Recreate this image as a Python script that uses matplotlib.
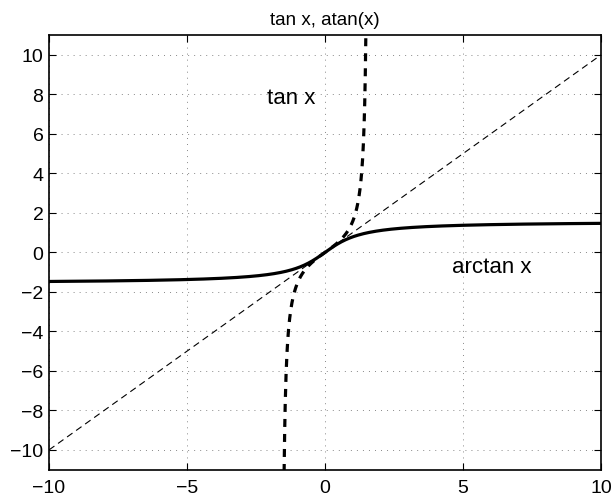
import numpy as np
import matplotlib
matplotlib.use('Agg')
from matplotlib import pyplot as plt

plt.rcParams['font.family'] = ['Liberation Sans', 'DejaVu Sans']

# data
x_tan = np.linspace(-1.5, 1.5, 301)
y_tan = np.tan(x_tan)
x_atan = np.linspace(-10, 10, 401)
y_atan = np.arctan(x_atan)
x_line = [-10, 10]
y_line = [-10, 10]

x_ticks = [-10, -5, 0, 5, 10]
y_ticks = [-10, -8, -6, -4, -2, 0, 2, 4, 6, 8, 10]
x_tick_labels = ['\u221210', '\u22125', '0', '5', '10']
y_tick_labels = ['\u221210', '\u22128', '\u22126', '\u22124', '\u22122', '0', '2', '4', '6', '8', '10']

fig = plt.figure(figsize=(6.14, 5.02), dpi=100)
ax = fig.add_axes([0.0798, 0.0624, 0.899, 0.8656])

ax.plot(x_line, y_line, color='black', linestyle=(0, (6, 4)), linewidth=0.8)
ax.plot(x_tan, y_tan, color='black', linestyle=(0, (2.5, 2.2)), linewidth=2.3)
ax.plot(x_atan, y_atan, color='black', linestyle='-', linewidth=2.3)

ax.text(-2.1, 7.55, 'tan x', fontsize=16, va='baseline', ha='left')
ax.text(4.62, -0.98, 'arctan x', fontsize=16, va='baseline', ha='left')
ax.set_title('tan x, atan(x)', fontsize=13.5, pad=8)

ax.set_xlim(-10, 10)
ax.set_ylim(-11, 11)
ax.set_xticks(x_ticks)
ax.set_xticklabels(x_tick_labels)
ax.set_yticks(y_ticks)
ax.set_yticklabels(y_tick_labels)
ax.tick_params(direction='in', top=True, right=True, labelsize=14, length=5, width=0.8)
ax.tick_params(axis='x', pad=7)
ax.tick_params(axis='y', pad=4)
ax.grid(True, color='#888888', linestyle=(0, (1, 5.2)), linewidth=0.7)
for s in ax.spines.values():
    s.set_linewidth(1.2)

fig.savefig('out.png', dpi=100)
